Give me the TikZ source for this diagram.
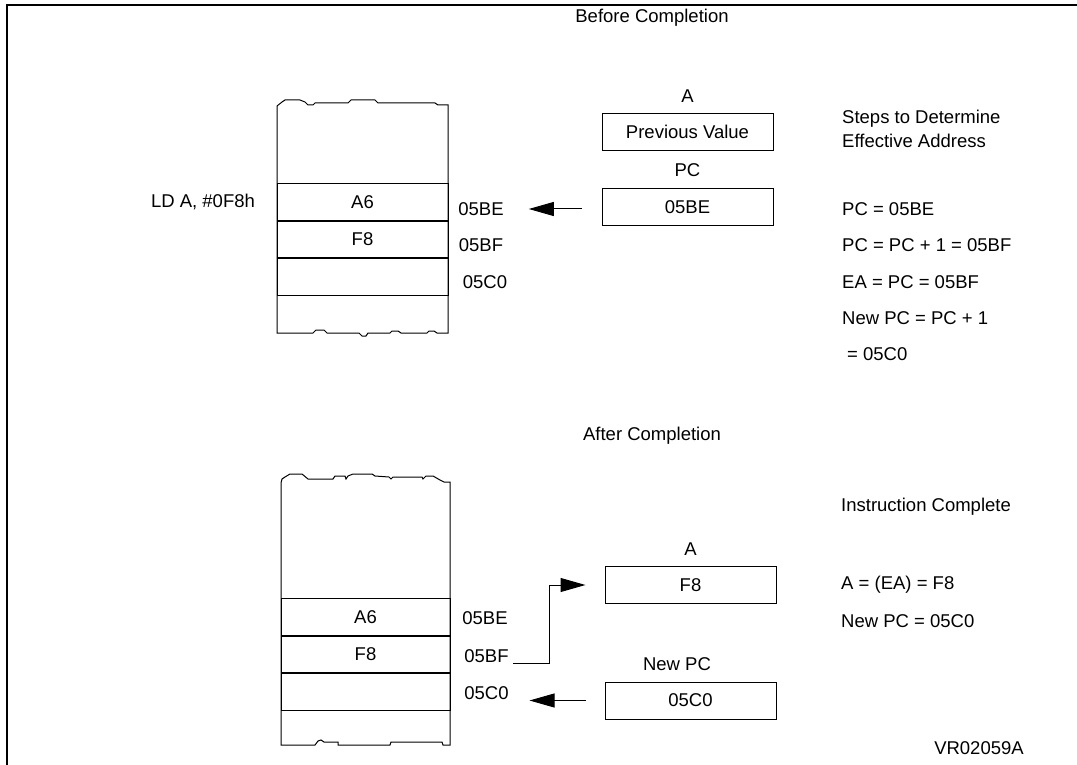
\documentclass[tikz,border=0pt]{standalone}
\usepackage{fontspec}
\setmainfont{Liberation Sans}
\usetikzlibrary{positioning,arrows.meta}

\tikzset{
  cell/.style={draw,line width=1pt,minimum width=171pt,minimum height=36.5pt,inner sep=0pt},
  reg/.style={draw,line width=1pt,minimum width=171pt,minimum height=37pt,inner sep=0pt},
  lbl/.style={inner sep=0pt},
  note/.style={inner sep=0pt,anchor=west},
  edge/.style={line width=1pt},
  arr/.style={line width=1pt,-{Triangle[length=25pt,width=14pt]}},
}

\begin{document}
\begin{tikzpicture}[x=1pt,y=-1pt,font=\fontsize{18.5}{22}\selectfont]
\useasboundingbox (0,0) rectangle (1077,765);
\draw[line width=1.5pt] (7,765) -- (7,5) -- (1077,5);

% before completion
\node[lbl] (before) at (652,18) {Before Completion};

\draw[edge] (277,333) -- (277,106) -- (282,102) -- (285,100) -- (300,100) -- (305,102)
  -- (308,105) -- (313,105) -- (315,103) -- (348,103) -- (351,100) -- (375,100)
  -- (378,103) -- (435,103) -- (438,105) -- (448,105) -- (448,333) -- (437,333)
  -- (434,331) -- (429,331) -- (427,333) -- (401,333) -- (398,331) -- (392,331)
  -- (390,333) -- (368,333) -- (366,336) -- (362,336) -- (359,333) -- (327,333)
  -- (324,330) -- (316,330) -- (313,333) -- cycle;
\node[cell] (aone) at (362.5,202) {A6};
\node[cell,below=0pt of aone] (fone) {F8};
\node[cell,below=0pt of fone] (eone) {};

\node[lbl] (ld) at (203,202) {LD A, \#0F8h};
\node[lbl] (beone) at (481,209) {05BE};
\node[lbl] (bfone) at (481,245) {05BF};
\node[lbl] (c0one) at (485,282) {05C0};

\node[reg] (accone) at (687.5,132) {Previous Value};
\node[lbl,above=10pt of accone] (accname) {A};
\node[reg] (pcone) at (687.5,207) {05BE};
\node[lbl,above=11pt of pcone] (pcname) {PC};
\draw[arr] ([xshift=-20pt,yshift=-2pt]pcone.west) -- ([xshift=25pt]beone.east);

\node[note] (steps) at (842,119) {Steps to Determine};
\node[note] (eff) at (842,141) {Effective Address};
\node[note] (sa) at (842,209) {PC = 05BE};
\node[note] (sb) at (842,245) {PC = PC + 1 = 05BF};
\node[note] (sc) at (842,282) {EA = PC = 05BF};
\node[note] (sd) at (842,318) {New PC = PC + 1};
\node[note] (se) at (847,354) {= 05C0};

% after completion
\node[lbl] (after) at (652,436) {After Completion};

\draw[edge] (281,745) -- (281,483) -- (282,479) -- (285,477) -- (290,474) -- (302,474)
  -- (308,479) -- (333,479) -- (335,476) -- (345,476) -- (346,479) -- (348,476)
  -- (353,474) -- (372,474) -- (375,476) -- (389,477) -- (391,479) -- (393,477)
  -- (422,477) -- (423,479) -- (426,476) -- (433,476) -- (440,480) -- (444,482)
  -- (450,482) -- (450,745) -- (443,745) -- (442,742) -- (391,742) -- (390,745)
  -- (338,745) -- (338,742) -- (324,742) -- (321,740) -- (318,741) -- (315,745)
  -- cycle;
\node[cell,minimum width=169pt] (atwo) at (365.5,617) {A6};
\node[cell,minimum width=169pt,below=0pt of atwo] (ftwo) {F8};
\node[cell,minimum width=169pt,below=0pt of ftwo] (etwo) {};

\node[lbl] (betwo) at (485,618) {05BE};
\node[lbl] (bftwo) at (486.5,656) {05BF};
\node[lbl] (c0two) at (486.5,693) {05C0};

\node[reg,text width=147pt,align=center] (acctwo) at (690.5,585) {F8};
\node[lbl,above=10pt of acctwo] (accnametwo) {A};
\node[reg,text width=147pt,align=center] (pctwo) at (690.5,700.5) {05C0};
\node[lbl] (newpc) at (677,664) {New PC};

\coordinate (bftail) at (513,663);
\draw[arr] (bftail) -- ++(36,0) |- ([xshift=-19pt]acctwo.west);
\draw[arr] ([xshift=-19pt]pctwo.west) -- ([xshift=-75pt]pctwo.west);

\node[note] (done) at (841,507) {Instruction Complete};
\node[note] (ra) at (841,585) {A = (EA) = F8};
\node[note] (rb) at (841,621) {New PC = 05C0};

\node[lbl] (ref) at (979,748) {VR02059A};
\end{tikzpicture}
\end{document}
